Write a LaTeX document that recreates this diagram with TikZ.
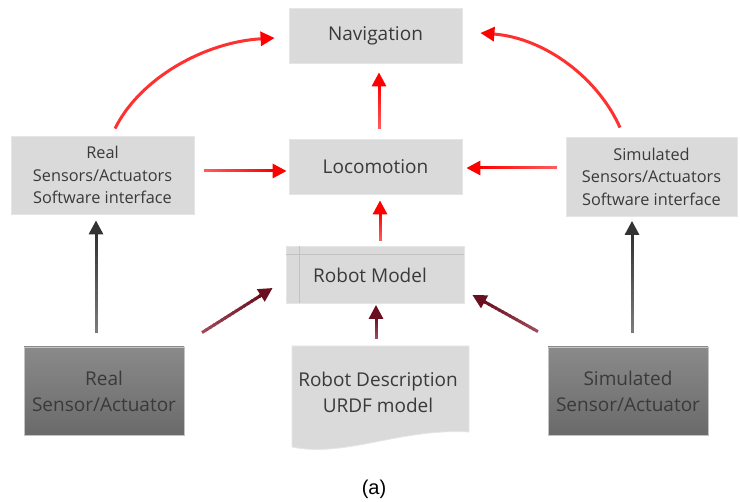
\documentclass[tikz,border=0pt]{standalone}
\usepackage{fontspec}
\setmainfont{Open Sans}
\newfontfamily\capfont{Liberation Sans}
\usetikzlibrary{arrows.meta,calc}
\definecolor{boxgray}{HTML}{DADADA}
\definecolor{boxedge}{HTML}{E6E6E6}
\definecolor{txt}{HTML}{3A3A3A}
\definecolor{darktop}{HTML}{8A8A8A}
\definecolor{darkbot}{HTML}{6A6A6A}
\definecolor{redtail}{HTML}{FF5A5A}
\definecolor{redline}{HTML}{FF3030}
\definecolor{redtip}{HTML}{FF0000}
\definecolor{winetail}{HTML}{A04A5A}
\definecolor{winetip}{HTML}{6A0F1F}
\definecolor{graytail}{HTML}{7A7A7A}
\definecolor{graytip}{HTML}{333333}
\tikzset{
  lightbox/.style={draw=boxedge, line width=0.8pt, fill=boxgray, text=txt,
    align=center, inner sep=0pt},
  darkbox/.style={draw=boxedge!85!black, line width=0.8pt, top color=darktop,
    bottom color=darkbot, text=txt, align=center, inner sep=0pt},
  bigtext/.style={font=\fontsize{19}{26}\selectfont},
  smalltext/.style={font=\fontsize{16.3}{22.5}\selectfont},
  tiphead/.style={-{Triangle[length=14pt,width=14pt,color=#1]}},
  redcurve/.style={draw=redline, line width=3pt, tiphead=redtip},
}
% straight connector whose colour runs from tail to head
% #1 start, #2 end, #3 tail colour, #4 head colour
\newcommand\gradarrow[4]{%
  \coordinate (ga-end) at ($(#2)!12pt!(#1)$);
  \foreach \k in {0,...,15}{%
    \pgfmathsetmacro\pc{100*\k/15}%
    \pgfmathsetmacro\ta{\k/16}%
    \pgfmathsetmacro\tb{min(1,(\k+1.4)/16)}%
    \draw[line width=3pt, draw={#4!\pc!#3}] ($(#1)!\ta!(ga-end)$) -- ($(#1)!\tb!(ga-end)$);
  }
  \draw[line width=3pt, draw=#4, tiphead=#4] ($(#1)!0.95!(ga-end)$) -- (#2);
}
\begin{document}
\begin{tikzpicture}[x=1pt,y=-1pt]
\useasboundingbox (0,0) rectangle (740,502);

% upper layer
\node[lightbox, bigtext, minimum width=173pt, minimum height=55pt] (nav) at (375.5,35.5) {Navigation};
\node[lightbox, bigtext, minimum width=173pt, minimum height=55pt] (loc) at (375.5,166.5) {Locomotion};
\node[lightbox, smalltext, minimum width=183pt, minimum height=78pt] (rsw) at (102.5,175)
  {Real\\Sensors/Actuators\\Software interface};
\node[lightbox, smalltext, minimum width=171pt, minimum height=79pt] (ssw) at (651.5,176.5)
  {Simulated\\Sensors/Actuators\\Software interface};

% robot model (internal storage)
\node[lightbox, minimum width=178pt, minimum height=57pt] (rm) at (375,274.5) {};
\draw[draw=black!24, line width=1.4pt] ($(rm.north west)+(0.5,9)$) -- ($(rm.north east)+(-0.5,9)$);
\draw[draw=black!24, line width=1.4pt] ($(rm.north west)+(14,0.5)$) -- ($(rm.south west)+(14,-0.5)$);
\node[text=txt, bigtext] (rmtext) at (370,275) {Robot Model};

% robot description (document)
\coordinate (rdnw) at (292,346);
\coordinate (rdne) at (469,346);
\fill[boxgray, draw=boxedge, line width=0.8pt] (rdnw) -- (rdne) -- (469,432)
  .. controls (400,428) and (345,458) .. (292,447) -- cycle;
\node[text=txt, bigtext, align=center] (rd) at (378,392) {Robot Description\\URDF model};

% hardware layer
\node[darkbox, bigtext, minimum width=160pt, minimum height=88pt] (rsa) at (104,391)
  {Real\\Sensor/Actuator};
\node[darkbox, bigtext, minimum width=160pt, minimum height=88pt] (ssa) at (628,391)
  {Simulated\\Sensor/Actuator};

% end points of the straight connectors
\coordinate (rswR) at ($(rsw.east)+(10,-4)$);
\coordinate (locL) at ($(loc.west)+(-2,4.5)$);
\coordinate (sswL) at ($(ssw.west)+(-9,-8.5)$);
\coordinate (locR) at ($(loc.east)+(4,1.5)$);
\coordinate (locT) at ($(loc.north)+(3.5,-10)$);
\coordinate (navB) at ($(nav.south)+(3.5,9)$);
\coordinate (rmT)  at ($(rm.north)+(5,-5)$);
\coordinate (locB) at ($(loc.south)+(4.5,6)$);
\coordinate (rdT)  at ($(rd.north)+(-2,-29)$);
\coordinate (rmB)  at ($(rm.south)+(1,1.5)$);
\coordinate (rsaR) at ($(rsa.north)+(98,-14)$);
\coordinate (rmL)  at ($(rm.west)+(-13,13.5)$);
\coordinate (ssaL) at ($(ssa.north)+(-90,-15)$);
\coordinate (rmR)  at ($(rm.east)+(8,20.5)$);
\coordinate (rsaT) at ($(rsa.north)+(-8,-14)$);
\coordinate (rswB) at ($(rsw.south)+(-6.5,6)$);
\coordinate (ssaT) at ($(ssa.north)+(4,-14)$);
\coordinate (sswB) at ($(ssw.south)+(-19.5,4.5)$);

% connectors
\draw[redcurve] ($(rsw.north)+(12.5,-7)$) .. controls (140,78) and (205,42) .. ($(nav.west)+(-14,2.5)$);
\draw[redcurve] ($(ssw.north)+(-31.5,-9)$) .. controls (598,78) and (545,38) .. ($(nav.east)+(18,-2.5)$);
\gradarrow{rswR}{locL}{redtail}{redtip}
\gradarrow{sswL}{locR}{redtail}{redtip}
\gradarrow{locT}{navB}{redtail}{redtip}
\gradarrow{rmT}{locB}{redtail}{redtip}
\gradarrow{rdT}{rmB}{winetail}{winetip}
\gradarrow{rsaR}{rmL}{winetail}{winetip}
\gradarrow{ssaL}{rmR}{winetail}{winetip}
\gradarrow{rsaT}{rswB}{graytail}{graytip}
\gradarrow{ssaT}{sswB}{graytail}{graytip}

% caption
\node[font=\capfont\fontsize{20}{24}\selectfont, text=black] (cap) at (374,489) {(a)};
\end{tikzpicture}
\end{document}
